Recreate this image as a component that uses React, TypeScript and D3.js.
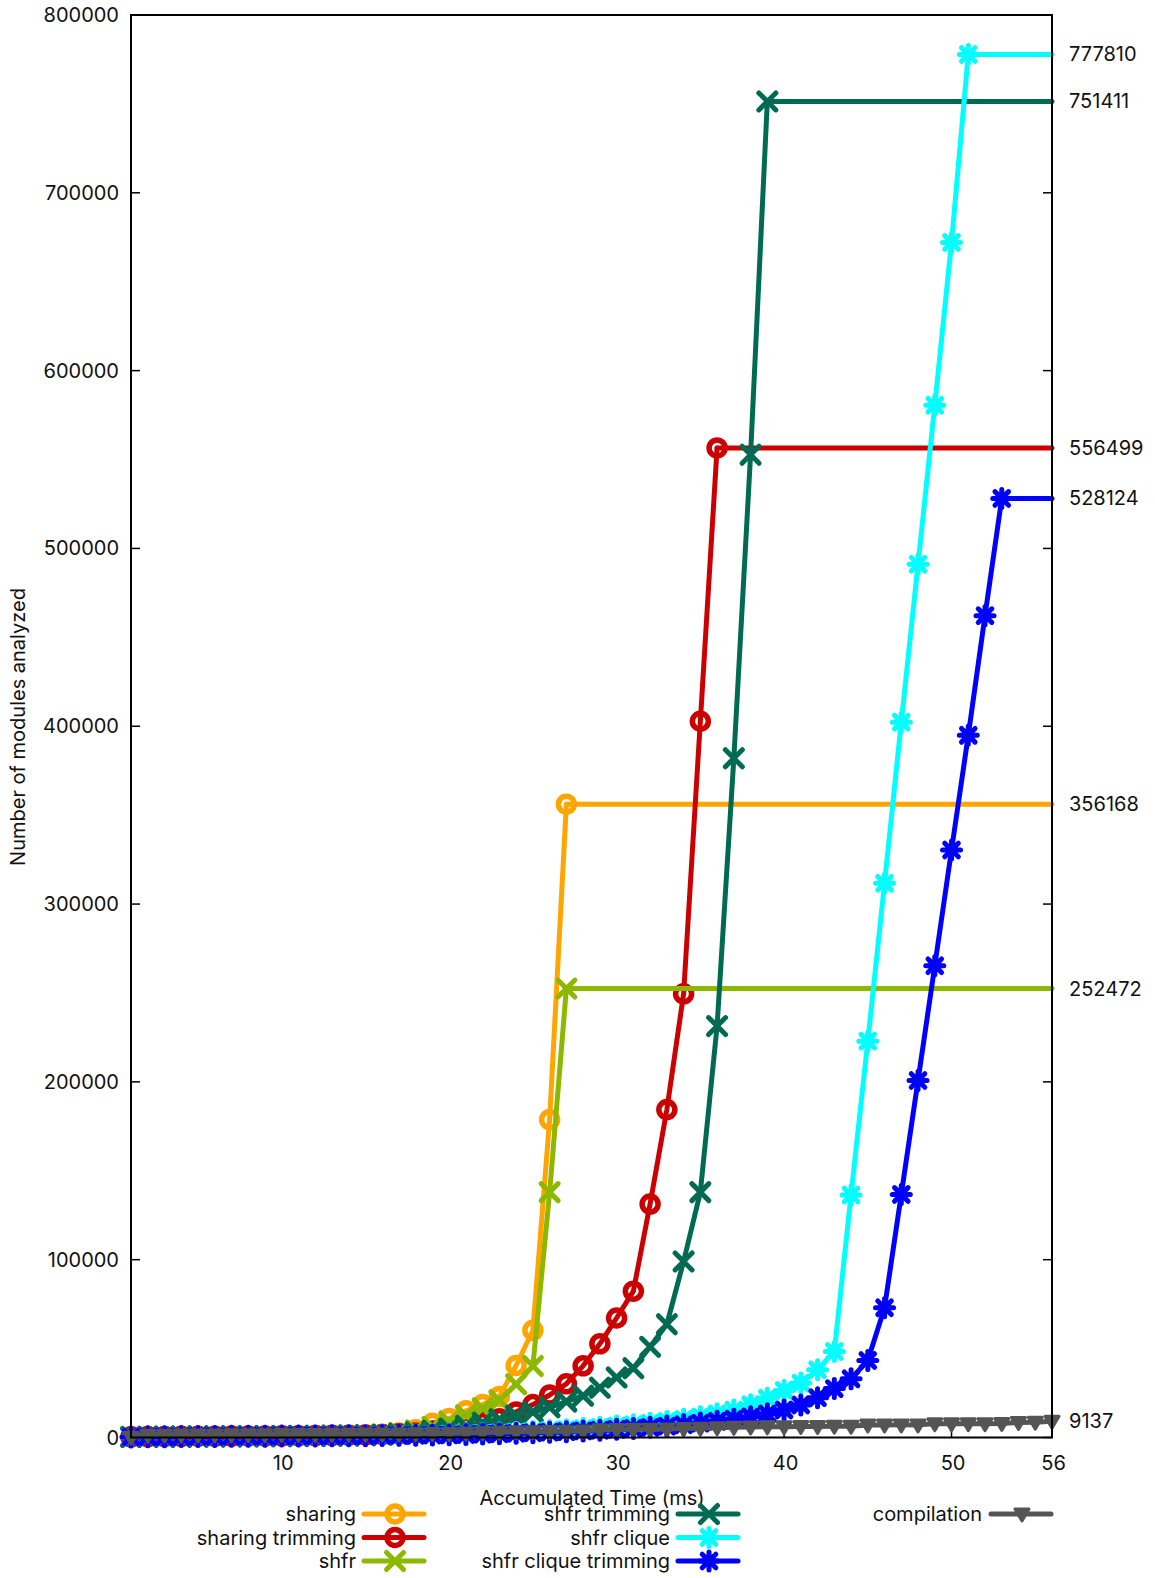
import React from "react";
import * as d3 from "d3";

const W = 1155;
const H = 1578;

// values per series, x = 1, 2, 3, ... (accumulated time, ms)
const sharing = [300, 400, 500, 550, 600, 650, 700, 750, 800, 850, 900, 1000, 1100, 1200, 1400, 1800, 2600, 4300, 8000, 10700, 15000, 18500, 23100, 40500, 60300, 178800, 356168];
const sharingTrimming = [400, 500, 600, 650, 700, 750, 800, 850, 900, 950, 1000, 1100, 1200, 1300, 1400, 1700, 2100, 2600, 3600, 5000, 6500, 8300, 10500, 14400, 18500, 23900, 30200, 40300, 52700, 67200, 82300, 131300, 184400, 249500, 402800, 556499];
const shfr = [300, 400, 450, 500, 550, 600, 650, 700, 750, 800, 850, 950, 1050, 1200, 1400, 1800, 2600, 4000, 6000, 9000, 12500, 16500, 21000, 30000, 40200, 138000, 252472];
const shfrTrimming = [300, 400, 450, 500, 550, 600, 650, 700, 750, 800, 850, 900, 1000, 1100, 1250, 1500, 2000, 2800, 3800, 5000, 6500, 8300, 10300, 12300, 14300, 17000, 20200, 23500, 28000, 33800, 39000, 51000, 63700, 99000, 138000, 231400, 382000, 552700, 751411];
const shfrClique = [300, 400, 450, 500, 550, 600, 650, 700, 750, 800, 850, 900, 950, 1000, 1100, 1200, 1300, 1450, 1600, 1800, 2000, 2300, 2600, 3000, 3400, 3900, 4400, 5000, 5700, 6400, 7200, 8000, 9000, 10200, 11600, 13300, 15400, 18400, 22100, 26500, 30600, 38100, 48400, 136400, 222900, 311700, 402300, 491100, 580500, 672100, 777810];
const shfrCliqueTrimming = [300, 400, 450, 500, 550, 600, 650, 700, 750, 800, 850, 900, 950, 1000, 1050, 1100, 1200, 1300, 1400, 1500, 1700, 1900, 2100, 2400, 2700, 3000, 3300, 3700, 4100, 4600, 5100, 5700, 6400, 7200, 8100, 9100, 10300, 11600, 13300, 15500, 18300, 22400, 27500, 33000, 43300, 73000, 136700, 200800, 265300, 330400, 394900, 462200, 528124];
const compilation = [200, 1200, 1300, 1350, 1400, 1450, 1500, 1550, 1600, 1650, 1700, 1750, 1800, 1850, 1900, 1950, 2000, 2100, 2200, 2300, 2500, 2800, 3000, 3200, 3300, 3400, 3500, 3600, 4300, 4500, 4600, 4700, 4800, 5000, 5200, 5500, 5700, 5900, 6000, 6100, 6200, 6200, 6300, 6300, 7000, 7000, 7100, 7100, 7700, 7700, 7800, 7800, 7900, 8500, 8600, 9137];

const seriesNames = ["sharing", "sharing trimming", "shfr", "shfr trimming", "shfr clique", "shfr clique trimming", "compilation"];
const seriesValues = [sharing, sharingTrimming, shfr, shfrTrimming, shfrClique, shfrCliqueTrimming, compilation];
const seriesColors = ["#ffa500", "#cc0000", "#8cb800", "#006b52", "#00ffff", "#0000ff", "#555555"];
const seriesMarkers = ["circle", "circle", "x", "x", "star", "star", "tri"];

const xTicks = [10, 20, 30, 40, 50, 56];
const yTicks = [0, 100000, 200000, 300000, 400000, 500000, 600000, 700000, 800000];
const xDomain = [1, 56];
const yDomain = [0, 800000];

const xTitle = "Accumulated Time (ms)";
const yTitle = "Number of modules analyzed";

const FONT = "Inter, 'DejaVu Sans', sans-serif";
const FS = 20;

const M = { left: 131, right: 1052, top: 15, bottom: 1437.5 };

function Marker({ type, x, y, color }: { type: string; x: number; y: number; color: string }) {
  const sw = 5;
  if (type === "circle") {
    return <circle cx={x} cy={y} r={8} fill="none" stroke={color} strokeWidth={5.5} />;
  }
  if (type === "x") {
    const s = 8.5;
    return (
      <path
        d={`M${x - s},${y - s}L${x + s},${y + s}M${x - s},${y + s}L${x + s},${y - s}`}
        stroke={color}
        strokeWidth={sw}
        strokeLinecap="round"
        fill="none"
      />
    );
  }
  if (type === "star") {
    const s = 9;
    const d = 6.8;
    return (
      <path
        d={`M${x - d},${y - d}L${x + d},${y + d}M${x - d},${y + d}L${x + d},${y - d}M${x - s},${y}L${x + s},${y}M${x},${y - s}L${x},${y + s}`}
        stroke={color}
        strokeWidth={sw}
        strokeLinecap="round"
        fill="none"
      />
    );
  }
  // triangle down
  return (
    <path
      d={`M${x - 7},${y - 5}L${x + 7},${y - 5}L${x},${y + 7}Z`}
      fill={color}
      stroke={color}
      strokeWidth={3}
      strokeLinejoin="round"
    />
  );
}

export default function App() {
  const x = d3.scaleLinear().domain(xDomain).range([M.left, M.right]);
  const y = d3.scaleLinear().domain(yDomain).range([M.bottom, M.top]);
  const line = d3
    .line<[number, number]>()
    .x((d) => x(d[0]))
    .y((d) => y(d[1]));

  const legendPos = [
    { tx: 356, lx: 364, ly: 1514 },
    { tx: 356, lx: 364, ly: 1537.5 },
    { tx: 356, lx: 364, ly: 1561 },
    { tx: 670, lx: 678, ly: 1514 },
    { tx: 670, lx: 678, ly: 1537.5 },
    { tx: 670, lx: 678, ly: 1561 },
    { tx: 982, lx: 991, ly: 1514 },
  ];

  return (
    <svg
      width={W}
      height={H}
      style={{ position: "absolute", left: 0, top: 0, background: "#fff" }}
      fontFamily={FONT}
      fontSize={FS}
    >
      <rect x={0} y={0} width={W} height={H} fill="#fff" />

      {/* y ticks */}
      {yTicks.map((t) => (
        <g key={"yt" + t}>
          <line x1={M.left} x2={M.left + 9} y1={y(t)} y2={y(t)} stroke="#000" strokeWidth={1.5} />
          <line x1={M.right} x2={M.right - 9} y1={y(t)} y2={y(t)} stroke="#000" strokeWidth={1.5} />
          <text x={119} y={y(t)} textAnchor="end" dominantBaseline="central" fill="#111">
            {t}
          </text>
        </g>
      ))}
      {xTicks.map((t) => (
        <g key={"xt" + t}>
          <line x1={x(t)} x2={x(t)} y1={M.bottom} y2={M.bottom - 9} stroke="#000" strokeWidth={1.5} />
          <text x={x(t) + 1.5} y={1463} textAnchor="middle" dominantBaseline="central" fill="#111">
            {t}
          </text>
        </g>
      ))}

      {/* series */}
      {seriesValues.map((vals, si) => {
        const pts: [number, number][] = vals.map((v, i) => [i + 1, v]);
        const last = vals[vals.length - 1];
        const tail: [number, number][] = [pts[pts.length - 1], [xDomain[1], last]];
        return (
          <g key={"s" + si}>
            <path d={line(pts) || ""} fill="none" stroke={seriesColors[si]} strokeWidth={5} strokeLinejoin="round" strokeLinecap="round" />
            <path d={line(tail) || ""} fill="none" stroke={seriesColors[si]} strokeWidth={5} strokeLinecap="round" />
            {pts.map((p, i) => (
              <Marker key={i} type={seriesMarkers[si]} x={x(p[0])} y={y(p[1])} color={seriesColors[si]} />
            ))}
          </g>
        );
      })}

      {/* border */}
      <rect x={M.left} y={M.top} width={M.right - M.left} height={M.bottom - M.top} fill="none" stroke="#000" strokeWidth={2} />

      {/* end labels */}
      {seriesValues.map((vals, si) => (
        <text key={"el" + si} x={1069} y={y(vals[vals.length - 1])} dominantBaseline="central" fill="#111">
          {vals[vals.length - 1]}
        </text>
      ))}

      {/* axis titles */}
      <text x={592} y={1498} textAnchor="middle" dominantBaseline="central" fill="#111">
        {xTitle}
      </text>
      <text
        transform={`translate(18,${727}) rotate(-90)`}
        textAnchor="middle"
        dominantBaseline="central"
        fill="#111"
      >
        {yTitle}
      </text>

      {/* legend */}
      {seriesNames.map((name, si) => {
        const p = legendPos[si];
        return (
          <g key={"lg" + si}>
            <text x={p.tx} y={p.ly} textAnchor="end" dominantBaseline="central" fill="#111">
              {name}
            </text>
            <line x1={p.lx} x2={p.lx + 60} y1={p.ly} y2={p.ly} stroke={seriesColors[si]} strokeWidth={5} strokeLinecap="round" />
            <Marker type={seriesMarkers[si]} x={p.lx + 31} y={p.ly} color={seriesColors[si]} />
          </g>
        );
      })}
    </svg>
  );
}
